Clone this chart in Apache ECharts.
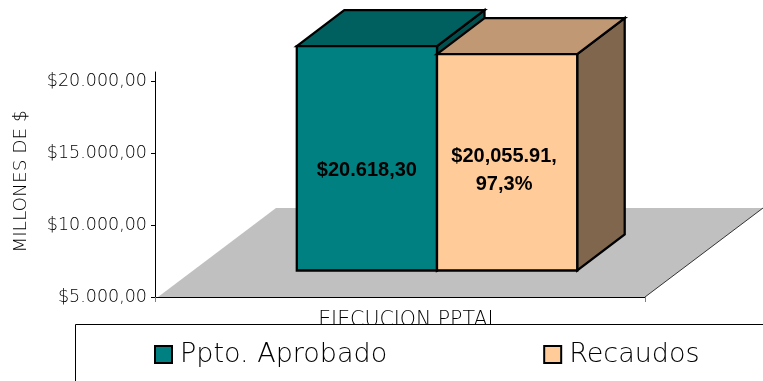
<!DOCTYPE html>
<html><head><meta charset="utf-8">
<style>html,body{margin:0;padding:0;background:#fff}#c{width:763px;height:381px}</style>
<script src="https://cdn.jsdelivr.net/npm/echarts@6/dist/echarts.min.js"></script>
</head><body><div id="c"></div>
<script>
const categories = ['EJECUCION PPTAL'];
const seriesNames = ['Ppto. Aprobado', 'Recaudos'];
const budgetValues = [20618.30];
const collectedValues = [20055.91];
const barLabels = ['$20.618,30', '$20,055.91,\n97,3%'];
const tickValues = [5000, 10000, 15000, 20000];
const tickLabels = ['$5.000,00', '$10.000,00', '$15.000,00', '$20.000,00'];
const axisMin = 5000, axisMax = 20660;

const UI_FONT = '"DejaVu Sans Light", "DejaVu Sans"';
const chart = echarts.init(document.getElementById('c'), null, {renderer: 'canvas'});

// perspective offsets
const FLOOR = {dx: 118, dy: -89};
const FRONT = {dx: 37, dy: -26.5};
const DEPTH = {dx: 47.5, dy: -36};
const BAR_W = 140.2;

function barSeries(name, idx, values, front, top, side) {
  return {
    type: 'custom', name, z: 4, coordinateSystem: 'cartesian2d',
    encode: {x: 0, y: 1},
    data: values.map((v, i) => [categories[i], v, barLabels[idx]]),
    itemStyle: {color: front},
    renderItem(params, api) {
      const t = api.coord([api.value(0), api.value(1)]);
      const b = api.coord([api.value(0), axisMin]);
      const x0 = t[0] + FRONT.dx + (idx === 0 ? -BAR_W : 0);
      const x1 = x0 + BAR_W;
      const yT = t[1] + FRONT.dy, yB = b[1] + FRONT.dy;
      const ln = {stroke: '#000', lineWidth: 2.3, lineJoin: 'miter'};
      const dx = DEPTH.dx, dy = DEPTH.dy;
      return {type: 'group', children: [
        {type: 'polygon', shape: {points: [[x1, yT], [x1 + dx, yT + dy], [x1 + dx, yB + dy], [x1, yB]]}, style: {fill: side, ...ln}},
        {type: 'polygon', shape: {points: [[x0, yT], [x0 + dx, yT + dy], [x1 + dx, yT + dy], [x1, yT]]}, style: {fill: top, ...ln}},
        {type: 'rect', shape: {x: x0, y: yT, width: BAR_W, height: yB - yT}, style: {fill: front, ...ln}},
        {type: 'text', z2: 10, style: {
          x: (x0 + x1) / 2 + (idx === 0 ? 0 : -3), y: 170, text: api.value(2), align: 'center', verticalAlign: 'middle',
          font: 'bold 20px "Liberation Sans"', fill: '#000', lineHeight: 28
        }}
      ]};
    }
  };
}

chart.setOption({
  animation: false,
  backgroundColor: '#fff',
  grid: {left: 155, top: 72, width: 490, height: 225, containLabel: false, outerBoundsMode: 'none'},
  xAxis: {
    type: 'category', data: categories, z: 3,
    axisLine: {lineStyle: {color: '#000', width: 1}},
    axisTick: {show: true, length: 5, lineStyle: {color: '#808080'}},
    axisLabel: {show: false},
    name: categories[0], nameLocation: 'middle', nameGap: 13,
    nameTextStyle: {fontFamily: UI_FONT, fontSize: 20.5, color: '#000', padding: [0, 0, 0, 17]}
  },
  yAxis: {
    type: 'value', min: axisMin, max: axisMax, z: 3,
    splitLine: {show: false},
    axisLine: {show: true, lineStyle: {color: '#000', width: 1}},
    axisTick: {show: true, length: 4, inside: false, customValues: tickValues, lineStyle: {color: '#000'}},
    axisLabel: {customValues: tickValues, margin: 8, fontFamily: UI_FONT, fontSize: 17.5, color: '#000',
      formatter: (v) => tickLabels[tickValues.indexOf(v)]},
    name: 'MILLONES DE $', nameLocation: 'middle', nameGap: 124, nameRotate: 90,
    nameTextStyle: {fontFamily: UI_FONT, fontSize: 18.5, color: '#000', padding: [0, 0, 0, 6]}
  },
  legend: {
    show: true, left: 154, top: 341, z: 7, itemWidth: 17, itemHeight: 17, itemGap: 156, padding: 0,
    icon: 'rect',
    textStyle: {fontFamily: UI_FONT, fontSize: 27, color: '#000', padding: [0, 0, 0, 3]},
    data: [
      {name: seriesNames[0], itemStyle: {color: '#008080', borderColor: '#000', borderWidth: 2}},
      {name: seriesNames[1], itemStyle: {color: '#ffcc99', borderColor: '#000', borderWidth: 2}}
    ]
  },
  graphic: [{type: 'rect', z: 6, shape: {x: 75.5, y: 324.5, width: 720, height: 100}, style: {fill: '#fff', stroke: '#000', lineWidth: 1}}],
  series: [
    {
      type: 'custom', name: 'floor', z: 2, coordinateSystem: 'cartesian2d', silent: true,
      data: [[categories[0], axisMin]],
      encode: {x: 0, y: 1},
      renderItem(params, api) {
        const base = api.coord([api.value(0), axisMin])[1];
        const L = params.coordSys.x + 3, R = params.coordSys.x + params.coordSys.width;
        return {type: 'group', children: [
          {type: 'polygon', shape: {points: [[L, base], [L + FLOOR.dx, base + FLOOR.dy], [R + FLOOR.dx, base + FLOOR.dy], [R, base]]}, style: {fill: '#c0c0c0'}},
          {type: 'line', shape: {x1: R, y1: base, x2: R + FLOOR.dx, y2: base + FLOOR.dy}, style: {stroke: '#333', lineWidth: 1}}
        ]};
      }
    },
    barSeries(seriesNames[0], 0, budgetValues, '#008080', '#006060', '#005050'),
    barSeries(seriesNames[1], 1, collectedValues, '#ffcc99', '#c09873', '#80664c')
  ]
});
</script></body></html>
